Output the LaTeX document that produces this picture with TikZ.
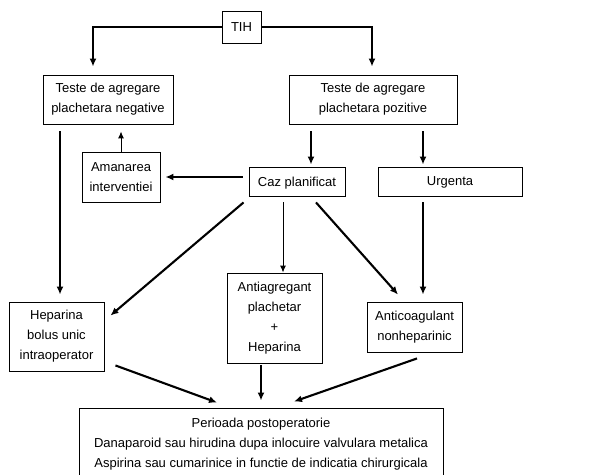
\documentclass[tikz,border=0pt]{standalone}
\usepackage{fontspec}
\setmainfont{Liberation Sans}
\usetikzlibrary{arrows.meta,positioning}

\begin{document}
\begin{tikzpicture}[x=1pt, y=1pt, font=\fontsize{13}{20}\selectfont,
  box/.style={draw=black, line width=0.9pt, fill=white, align=center, inner sep=2pt},
  thick arrow/.style={-{Latex[length=8pt,width=7pt]}, line width=2.1pt},
  thin arrow/.style={-{Latex[length=7pt,width=6pt]}, line width=1pt}]

\useasboundingbox (0,0) rectangle (607,474);

\node[box, minimum width=39pt, minimum height=32pt] (tih) at (241.5,447) {TIH};
\node[box, minimum width=130pt, minimum height=49pt] (neg) at (108,374.5) {Teste de agregare\\plachetara negative};
\node[box, minimum width=168pt, minimum height=49pt] (poz) at (373,374.5) {Teste de agregare\\plachetara pozitive};
\node[box, minimum width=78pt, minimum height=50pt] (ama) at (121,297) {Amanarea\\interventiei};
\node[box, minimum width=96pt, minimum height=29pt, text depth=0pt] (caz) at (297,292.5) {Caz planificat};
\node[box, minimum width=144pt, minimum height=29pt, text depth=0pt] (urg) at (450,292.5) {Urgenta};
\node[box, minimum width=95pt, minimum height=69pt] (hep) at (56.5,137.5) {Heparina\\bolus unic\\intraoperator};
\node[box, minimum width=95pt, minimum height=90pt] (anti) at (274.5,156) {Antiagregant\\plachetar\\+\\Heparina};
\node[box, minimum width=95pt, minimum height=50pt] (antic) at (414.5,147) {Anticoagulant\\nonheparinic};
\node[box, minimum width=364pt, minimum height=72pt] (post) at (261,30) {Perioada postoperatorie\\Danaparoid sau hirudina dupa inlocuire valvulara metalica\\Aspirina sau cumarinice in functie de indicatia chirurgicala};

\draw[thick arrow, shorten >=8pt] (tih.west) -| ([xshift=-15pt]neg.north);
\draw[thick arrow, shorten >=8pt] (tih.east) -| ([xshift=-1pt]poz.north);
\draw[thick arrow, shorten <=7pt, shorten >=7pt] ([xshift=3.5pt]hep.north |- neg.south) -- ([xshift=3.5pt]hep.north);
\draw[thin arrow, shorten >=7pt] (ama.north) -- (ama.north |- neg.south);
\draw[thick arrow, shorten <=7pt, shorten >=2pt] ([xshift=14pt]caz.north |- poz.south) -- ([xshift=14pt]caz.north);
\draw[thick arrow, shorten <=7pt, shorten >=2pt] ([xshift=-27pt]urg.north |- poz.south) -- ([xshift=-27pt]urg.north);
\draw[thick arrow, shorten <=6pt, shorten >=5pt] (caz.west |- ama.east) -- (ama.east);
\draw[thick arrow] ([shift={(-5,-6)}]caz.south west) -- ([shift={(6,-14)}]hep.north east);
\draw[thin arrow, shorten <=6pt] ([xshift=-14pt]caz.south) -- ([xshift=-14pt]caz.south |- anti.north);
\draw[thick arrow] ([shift={(19,-6)}]caz.south) -- ([shift={(-16.5,7)}]antic.north);
\draw[thick arrow, shorten <=6pt, shorten >=7pt] ([xshift=-27pt]urg.south) -- ([xshift=-27pt]urg.south |- antic.north);
\draw[thick arrow] ([shift={(11,6)}]hep.south east) -- ([shift={(-44,5)}]post.north);
\draw[thick arrow, shorten <=2pt, shorten >=7pt] ([xshift=-13.5pt]anti.south) -- (post.north);
\draw[thick arrow] ([shift={(2.5,-6)}]antic.south) -- ([shift={(33,6)}]post.north);
\end{tikzpicture}
\end{document}
